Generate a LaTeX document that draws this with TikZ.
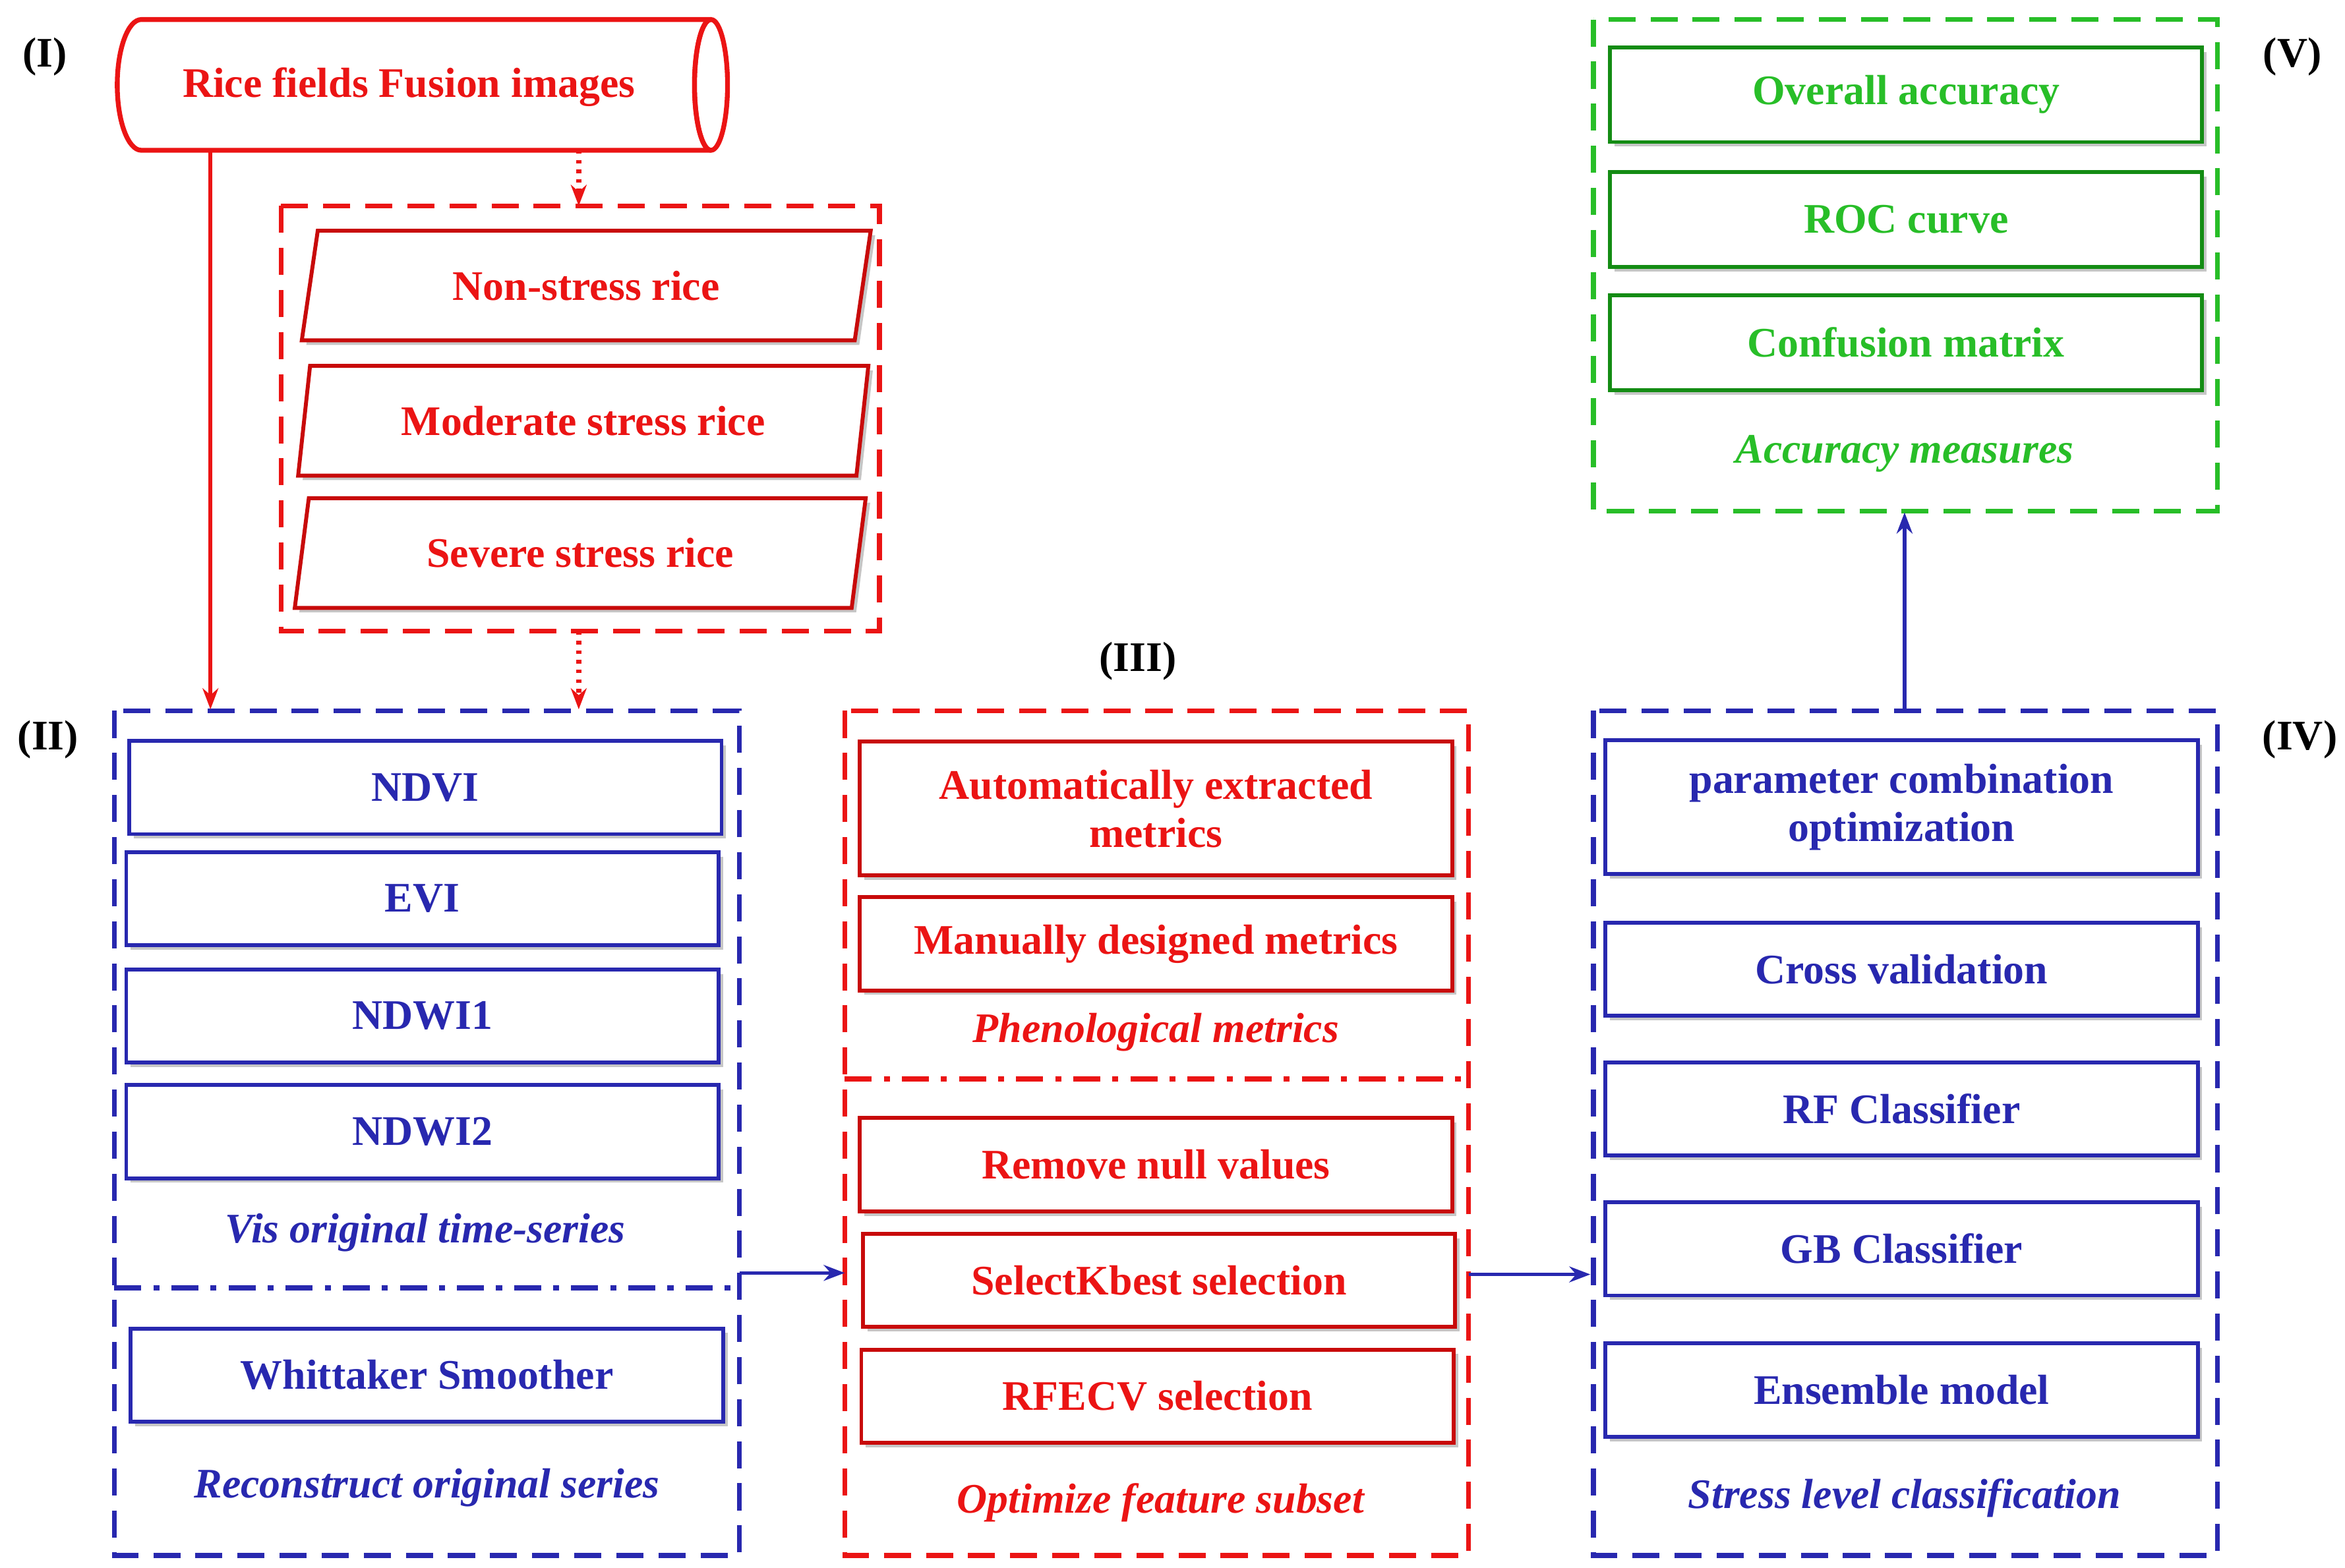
\documentclass[tikz,border=0pt]{standalone}
\usepackage{fontspec}
\setmainfont{Liberation Serif}
\usetikzlibrary{shapes.geometric,shadows,arrows.meta}
\definecolor{myred}{RGB}{235,20,20}
\definecolor{dred}{RGB}{200,10,10}
\definecolor{myblue}{RGB}{40,40,175}
\definecolor{mygreen}{RGB}{40,190,40}
\definecolor{dgreen}{RGB}{20,140,20}
\begin{document}
\begin{tikzpicture}[x=0.5pt,y=-0.5pt,
  txt/.style={font=\bfseries\fontsize{14}{16}\selectfont},
  captxt/.style={font=\bfseries\itshape\fontsize{14}{16}\selectfont},
  bx/.style={draw=#1,line width=1.3pt,fill=white,drop shadow={opacity=0.45,shadow xshift=1.5pt,shadow yshift=-1.5pt},align=center,inner sep=0pt},
  grp/.style={draw=#1,line width=1.6pt,dash pattern=on 9pt off 5pt},
  dd/.style={draw=#1,line width=1.6pt,dash pattern=on 9pt off 4pt on 2pt off 4pt},
  arr/.style={line width=1.2pt,-{Stealth[length=7pt]}}]
\useasboundingbox (0,0) rectangle (1560,1043);
% labels
\node[txt] (l1) at (30,38) {(I)};
\node[txt] (l2) at (32,492) {(II)};
\node[txt] (l3) at (757,440) {(III)};
\node[txt] (l4) at (1530,492) {(IV)};
\node[txt] (l5) at (1525,38) {(V)};
% cylinder drawn directly
\draw[myred,line width=1.6pt] (94,13) -- (473,13) arc[start angle=90,end angle=270,x radius=11,y radius=-43.5] -- (94,100)
  arc[start angle=270,end angle=90,x radius=16,y radius=-43.5] -- cycle;
\draw[myred,line width=1.6pt] (473,56.5) ellipse[x radius=11,y radius=43.5];
\node[txt,text=myred] (cylt) at (272,58) {Rice fields Fusion images};
% group I
\draw[grp=myred] (187,137) rectangle (585,420);
\coordinate (g1t) at (385,137);
\coordinate (g1b) at (385,420);
\tikzset{par/.style={bx=dred,trapezium,trapezium left angle=75,trapezium right angle=105,minimum height=73*0.5pt,trapezium stretches=true,minimum width=380*0.5pt,txt,text=myred}}
\node[par] (p1) at (390,190) {Non-stress rice};
\node[par] (p2) at (388,280) {Moderate stress rice};
\node[par] (p3) at (386,368) {Severe stress rice};
% group II
\draw[grp=myblue] (76,473) rectangle (492,1035);
\draw[dd=myblue] (76,857) -- (492,857);
\tikzset{bb/.style={bx=myblue,txt,text=myblue,minimum width=394*0.5pt,minimum height=62*0.5pt}}
\node[bb] (ndvi) at (283,524) {NDVI};
\node[bb] (evi) at (281,598) {EVI};
\node[bb] (nd1) at (281,676) {NDWI1};
\node[bb] (nd2) at (281,753) {NDWI2};
\node[captxt,text=myblue] (c2a) at (283,820) {Vis original time-series};
\node[bb] (wh) at (284,915) {Whittaker Smoother};
\node[captxt,text=myblue] (c2b) at (284,990) {Reconstruct original series};
% group III
\draw[grp=myred] (562,473) rectangle (977,1035);
\draw[dd=myred] (562,718) -- (977,718);
\tikzset{rb/.style={bx=dred,txt,text=myred,minimum width=394*0.5pt,minimum height=62*0.5pt}}
\node[rb,minimum height=89*0.5pt] (auto) at (769,538) {Automatically extracted\\metrics};
\node[rb] (man) at (769,628) {Manually designed metrics};
\node[captxt,text=myred] (c3a) at (769,687) {Phenological metrics};
\node[rb] (rem) at (769,775) {Remove null values};
\node[rb] (skb) at (771,852) {SelectKbest selection};
\node[rb] (rfe) at (770,929) {RFECV selection};
\node[captxt,text=myred] (c3b) at (772,1000) {Optimize feature subset};
% group IV
\draw[grp=myblue] (1060,473) rectangle (1475,1035);
\node[bb,minimum height=89*0.5pt] (param) at (1265,537) {parameter combination\\optimization};
\node[bb] (cv) at (1265,645) {Cross validation};
\node[bb] (rf) at (1265,738) {RF Classifier};
\node[bb] (gb) at (1265,831) {GB Classifier};
\node[bb] (ens) at (1265,925) {Ensemble model};
\node[captxt,text=myblue] (c4) at (1267,997) {Stress level classification};
% group V
\draw[grp=mygreen] (1060,13) rectangle (1475,340);
\tikzset{gbx/.style={bx=dgreen,txt,text=mygreen,minimum width=394*0.5pt,minimum height=63*0.5pt}}
\node[gbx] (oa) at (1268,63) {Overall accuracy};
\node[gbx] (roc) at (1268,146) {ROC curve};
\node[gbx] (cm) at (1268,228) {Confusion matrix};
\node[captxt,text=mygreen] (c5) at (1267,302) {Accuracy measures};
% coordinates for connectors
\coordinate (cb) at (385,100);
\coordinate (g2t) at (385,472);
\coordinate (cl) at (140,100);
\coordinate (g2l) at (140,472);
\coordinate (a1) at (492,847); \coordinate (a2) at (562,847);
\coordinate (b1) at (977,848); \coordinate (b2) at (1058,848);
\coordinate (d1) at (1267,473); \coordinate (d2) at (1267,341);
\draw[arr,myred,dotted,line width=1.6pt] (cb) -- (g1t);
\draw[arr,myred,dotted,line width=1.6pt] (g1b) -- (g2t);
\draw[arr,myred] (cl) -- (g2l);
\draw[arr,myblue] (a1) -- (a2);
\draw[arr,myblue] (b1) -- (b2);
\draw[arr,myblue] (d1) -- (d2);
\end{tikzpicture}
\end{document}
